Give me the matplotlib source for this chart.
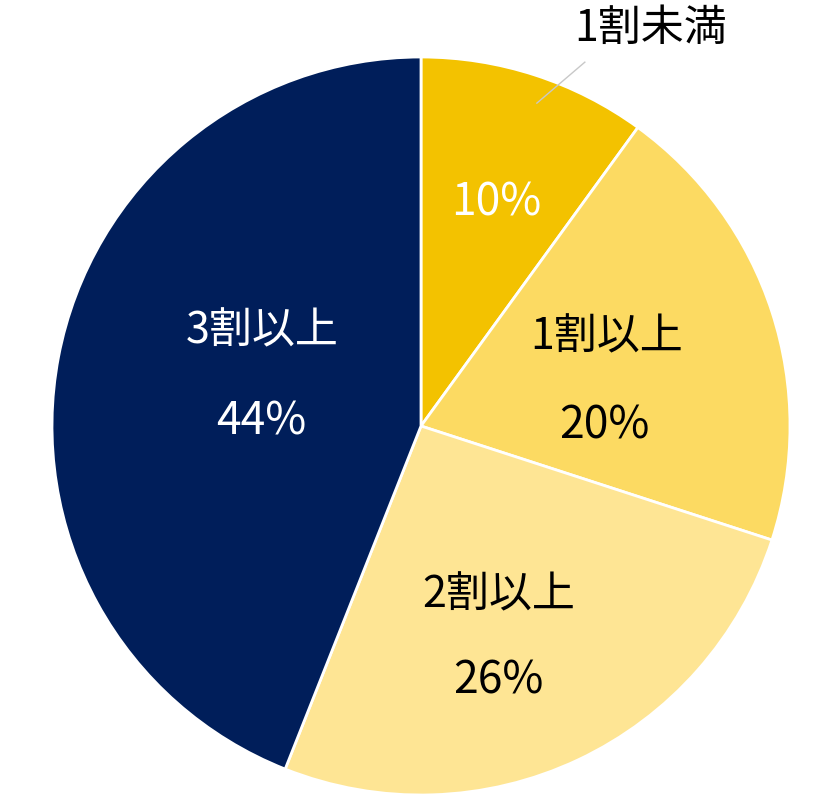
import matplotlib
matplotlib.use("Agg")
import matplotlib.pyplot as plt

categories = ["1割未満", "1割以上", "2割以上", "3割以上"]
values = [10, 20, 26, 44]
colors = ["#F3C200", "#FCDA62", "#FEE594", "#001E5A"]
text_colors = ["white", "black", "black", "white"]

# label anchor positions (data units, pie radius = 1)
cat_pos = [None, (0.504, 0.241), (0.211, -0.458), (-0.430, 0.257)]
pct_pos = [(0.203, 0.605), (0.496, 0.001), (0.209, -0.690), (-0.433, 0.012)]
outside_label_pos = (0.623, 1.076)
leader = [(0.314, 0.875), (0.444, 0.986)]

plt.rcParams['font.family'] = ['Noto Sans CJK JP', 'DejaVu Sans']

fig = plt.figure(figsize=(8.4, 8.07), dpi=100)
ax = fig.add_axes([52/840, 12/807, 738/840, 738/807])
ax.pie(values, colors=colors, startangle=90, counterclock=False, radius=1,
       wedgeprops=dict(edgecolor="white", linewidth=2))
ax.set_xlim(-1, 1)
ax.set_ylim(-1, 1)
ax.set_aspect('equal')
ax.axis('off')

fs = 31
for i, (cat, v) in enumerate(zip(categories, values)):
    px, py = pct_pos[i]
    ax.text(px, py, f"{v}%", ha='center', va='center', fontsize=fs + 1,
            color=text_colors[i])
    if cat_pos[i] is not None:
        cx, cy = cat_pos[i]
        ax.text(cx, cy, cat, ha='center', va='center', fontsize=fs,
                color=text_colors[i])

ax.plot([leader[0][0], leader[1][0]], [leader[0][1], leader[1][1]],
        color="#C8C8C8", linewidth=1, clip_on=False)
ax.text(outside_label_pos[0], outside_label_pos[1], categories[0],
        ha='center', va='center', fontsize=fs, color='black', clip_on=False)

fig.savefig("out.png", dpi=100)
